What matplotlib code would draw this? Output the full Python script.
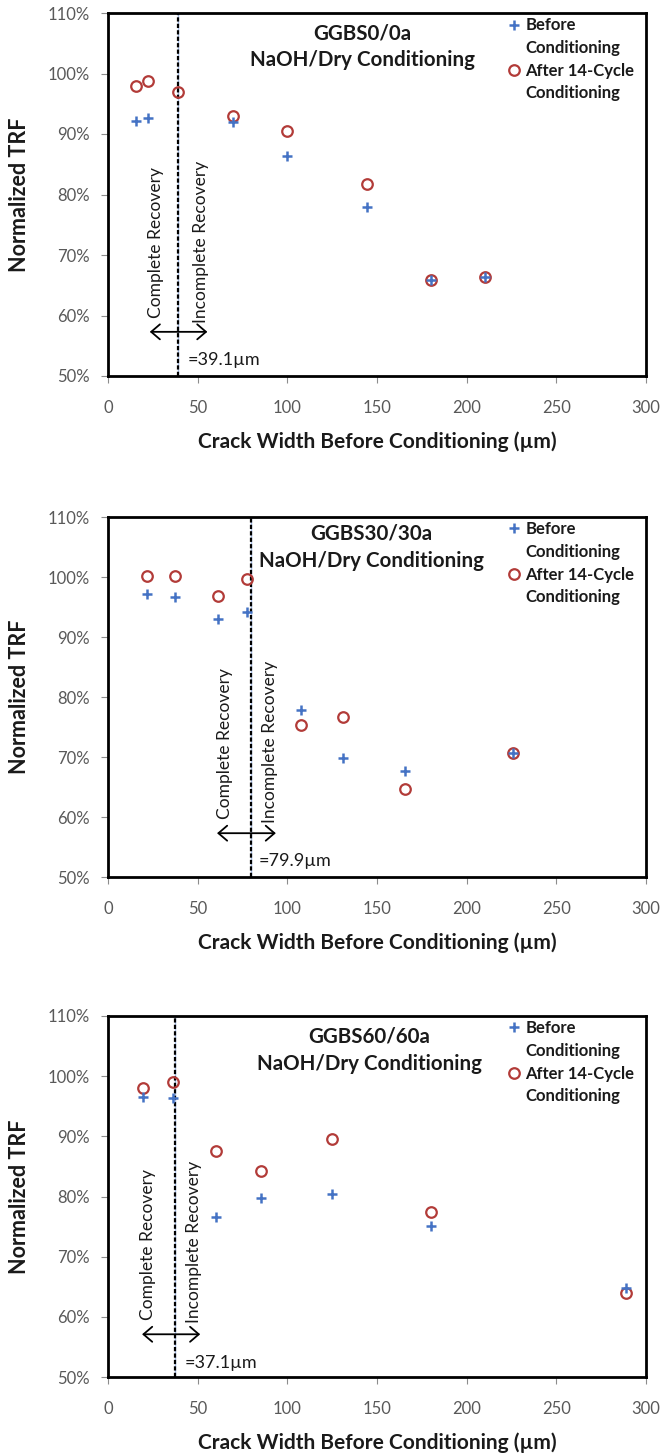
import matplotlib
matplotlib.use("Agg")
import matplotlib.pyplot as plt
import matplotlib.ticker as ticker
from matplotlib.lines import Line2D

plt.rcParams['font.family'] = ['Lato', 'DejaVu Sans']

# crack widths (um) and normalized TRF (%) per mix
mixes = ["GGBS0/0a", "GGBS30/30a", "GGBS60/60a"]

before_x_0 = [15.8, 22.1, 69.9, 100.0, 144.7, 180.2, 210.1]
before_y_0 = [92.2, 92.6, 92.0, 86.4, 78.0, 65.8, 66.3]
after_x_0 = [15.8, 22.1, 38.8, 69.9, 100.0, 144.7, 180.2, 210.1]
after_y_0 = [98.0, 98.7, 97.0, 93.0, 90.5, 81.8, 65.8, 66.3]

before_x_30 = [21.6, 37.2, 61.6, 77.6, 107.8, 131.3, 165.6, 225.9]
before_y_30 = [97.2, 96.7, 93.0, 94.1, 77.9, 69.9, 67.7, 70.7]
after_x_30 = [21.6, 37.2, 61.6, 77.6, 107.8, 131.3, 165.6, 225.9]
after_y_30 = [100.2, 100.2, 96.8, 99.6, 75.4, 76.6, 64.6, 70.7]

before_x_60 = [19.3, 36.5, 60.2, 85.2, 124.7, 180.2, 288.9]
before_y_60 = [96.5, 96.3, 76.6, 79.7, 80.4, 75.1, 64.8]
after_x_60 = [19.3, 36.5, 60.2, 85.2, 124.7, 180.2, 288.9]
after_y_60 = [98.1, 99.1, 87.6, 84.3, 89.5, 77.4, 63.9]

# critical crack width separating complete / incomplete recovery
critical = [39.1, 79.9, 37.1]

before_x = [before_x_0, before_x_30, before_x_60]
before_y = [before_y_0, before_y_30, before_y_60]
after_x = [after_x_0, after_x_30, after_x_60]
after_y = [after_y_0, after_y_30, after_y_60]

# annotation placement per panel (data units)
arrow_span = [(23.3, 55.4), (60.8, 93.6), (19.0, 51.4)]
arrow_y = [57.3, 57.3, 57.1]
complete_pos = [(26.7, 59.6), (65.0, 59.6), (22.5, 59.5)]
incomplete_pos = [(52.0, 58.8), (90.1, 59.0), (47.9, 59.0)]
value_pos = [(44.3, 52.6), (84.2, 52.7), (42.5, 52.4)]
title_pos = [(142.0, 106.6, 102.2), (147.0, 107.2, 102.7), (145.8, 106.6, 102.1)]

xBlue = '#4472C4'
xRed = '#B23B38'
xTick = '#595959'
xText = '#1a1a1a'

W, H = 662, 1455
fig = plt.figure(figsize=(W/100, H/100), dpi=100)
boxes = [(13, 376), (517, 877), (1016, 1377)]

plusStyle = dict(ls='', marker='+', ms=7.4, mec=xBlue, mew=1.8)
ringStyle = dict(ls='', marker='o', ms=7.6, mfc='none', mec=xRed, mew=1.6)

for i in range(3):
    top, bot = boxes[i]
    ax = fig.add_axes([108/W, (H-bot)/H, 538/W, (bot-top)/H])

    x0 = critical[i]
    ax.axvline(x0, color='#a8bde6', lw=1.0, zorder=1)
    ax.axvline(x0, color='black', lw=1.6, ls=(0, (1.9, 1.0)), zorder=2)

    ax.plot(after_x[i], after_y[i], zorder=3, **ringStyle)
    ax.plot(before_x[i], before_y[i], zorder=4, **plusStyle)

    a, b = arrow_span[i]
    ax.annotate('', xy=(b, arrow_y[i]), xytext=(a, arrow_y[i]),
                arrowprops=dict(arrowstyle='<->,head_length=0.35,head_width=0.3',
                                lw=1.3, color='black', shrinkA=0, shrinkB=0,
                                mutation_scale=18))
    cx, cy = complete_pos[i]
    ax.text(cx, cy, 'Complete Recovery', rotation=90, ha='center', va='bottom',
            fontsize=12.5, color=xText)
    ix, iy = incomplete_pos[i]
    ax.text(ix, iy, 'Incomplete Recovery', rotation=90, ha='center', va='bottom',
            fontsize=12.5, color=xText)
    vx, vy = value_pos[i]
    ax.text(vx, vy, '=%.1f\u00b5m' % x0, ha='left', va='center',
            fontsize=13, color=xText)

    tx, ty1, ty2 = title_pos[i]
    ax.text(tx, ty1, mixes[i], ha='center', va='center', fontsize=14.8,
            fontweight='bold', color=xText)
    ax.text(tx, ty2, 'NaOH/Dry Conditioning', ha='center', va='center',
            fontsize=14.8, fontweight='bold', color=xText)

    handles = [Line2D([], [], **plusStyle),
               Line2D([], [], ls='', marker=''),
               Line2D([], [], **ringStyle),
               Line2D([], [], ls='', marker='')]
    labels = ['Before', 'Conditioning', 'After 14-Cycle', 'Conditioning']
    leg = ax.legend(handles, labels, loc='upper left', bbox_to_anchor=(0.743, 0.988),
                    frameon=False, borderaxespad=0, borderpad=0, handlelength=0.75,
                    handletextpad=0.3, labelspacing=0.4,
                    prop=dict(size=12, weight='bold'))
    for t in leg.get_texts():
        t.set_color(xText)

    ax.set_xlim(0, 300)
    ax.set_ylim(50, 110)
    ax.xaxis.set_major_locator(ticker.MultipleLocator(50))
    ax.yaxis.set_major_locator(ticker.MultipleLocator(10))
    ax.yaxis.set_major_formatter(ticker.PercentFormatter(decimals=0))
    ax.tick_params(axis='both', direction='out', length=5, width=0.8, color='#8c8c8c',
                   labelsize=12, labelcolor=xTick)
    ax.tick_params(axis='x', pad=12)
    ax.tick_params(axis='y', pad=8)
    for s in ax.spines.values():
        s.set_linewidth(2.0)
        s.set_color('black')

    ax.set_xlabel('Crack Width Before Conditioning (\u00b5m)', fontsize=15,
                  fontweight='bold', color=xText, va='center')
    ax.xaxis.set_label_coords(0.5, -0.182)
    ax.set_ylabel('Normalized TRF', fontsize=15.5, fontweight='bold',
                  color=xText, va='center')
    ax.yaxis.set_label_coords(-0.165, 0.5)

fig.savefig('out.png', dpi=100)
